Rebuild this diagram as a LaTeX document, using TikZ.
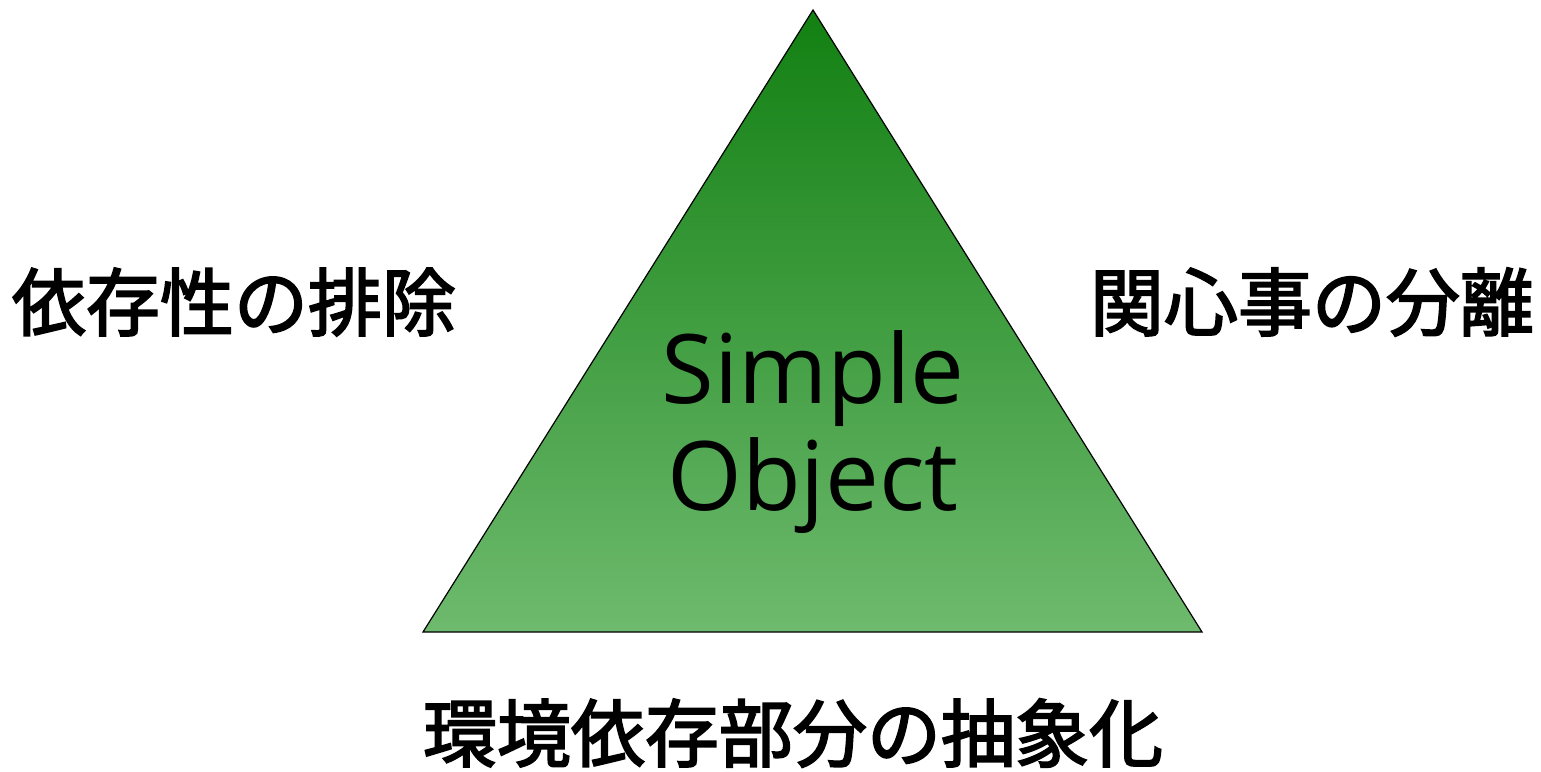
\documentclass[tikz,border=0pt]{standalone}
\usepackage{fontspec}
\setmainfont{Open Sans}
\newfontfamily\cjk[FakeBold=2.5]{Noto Sans CJK JP}
\definecolor{gtop}{RGB}{18,128,18}
\definecolor{gbot}{RGB}{110,186,110}
\tikzset{
  jlabel/.style={inner sep=0pt, font=\cjk\fontsize{74}{80}\selectfont},
  tri/.style={draw=black, line width=1.2pt, top color=gtop, bottom color=gbot}
}
\begin{document}
\begin{tikzpicture}[x=1pt,y=-1pt]
\useasboundingbox (0,0) rectangle (1541,771);
\coordinate (apex) at (813,10);
\coordinate (bl) at (423,632);
\coordinate (br) at (1202,632);
\shade[tri] (apex) -- (br) -- (bl) -- cycle;
\node[inner sep=0pt, align=center, font=\fontsize{96}{107}\selectfont] (so) at (813,432) {Simple\\Object};
\node[jlabel] (l) at (234,302) {依存性の排除};
\node[jlabel] (r) at (1312,302) {関心事の分離};
\node[jlabel] (b) at (793,733) {環境依存部分の抽象化};
\end{tikzpicture}
\end{document}
